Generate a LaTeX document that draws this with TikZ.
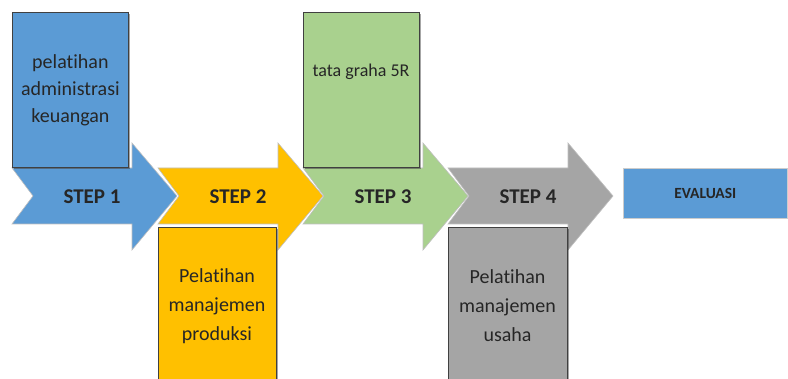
\documentclass[tikz,border=0pt]{standalone}
\usepackage{fontspec}
\setmainfont{Carlito}[Ligatures=NoCommon]
\usetikzlibrary{shadows}

\definecolor{stepblue}{HTML}{5B9BD5}
\definecolor{stepyellow}{HTML}{FFC000}
\definecolor{stepgreen}{HTML}{A9D18E}
\definecolor{stepgray}{HTML}{A5A5A5}

\tikzset{
  kotak/.style={rectangle, draw=black!75, line width=0.8pt, inner sep=0pt,
    minimum width=116pt, align=center, text=black!85,
    drop shadow={shadow xshift=1.5pt, shadow yshift=-1.5pt, fill=black, opacity=0.35}},
  isi/.style={align=center, text=black!85, font=\fontsize{20}{27}\selectfont},
  panah/.style={draw=black!25, line width=0.6pt},
  langkah/.style={text=black!85, font=\bfseries\fontsize{21}{24}\selectfont}
}

\begin{document}
\begin{tikzpicture}[x=1pt, y=-1pt]
\useasboundingbox (0,0) rectangle (788,379);
\clip (0,0) rectangle (788,379);

% panah langkah
\foreach \x/\warna [count=\i] in {12/stepblue, 158/stepyellow, 303/stepgreen, 448/stepgray} {
  \draw[panah, fill=\warna] (\x,168) -- (\x+120,168) -- (\x+120,143) -- (\x+165,196)
    -- (\x+120,250) -- (\x+120,224) -- (\x,224) -- (\x+21,196) -- cycle;
  \node[langkah] (step\i) at (\x+80,197) {STEP \i};
}

% kegiatan di atas
\node[kotak, fill=stepblue, minimum height=155pt, anchor=north west] (admin) at (12,12) {};
\node[isi] (admintxt) at (admin.center) {pelatihan\\administrasi\\keuangan};
\node[kotak, fill=stepgreen, minimum height=155pt, anchor=north west] (grahabox) at (303,12) {};
\node[isi, font=\fontsize{18}{22}\selectfont] (grahatxt) at (361,72) {tata graha 5R};

% kegiatan di bawah
\node[kotak, fill=stepyellow, minimum width=118pt, minimum height=160pt, anchor=north west] (produksi) at (158,227) {};
\node[isi, font=\fontsize{20}{29}\selectfont] (produksitxt) at (217,306) {Pelatihan\\manajemen\\produksi};
\node[kotak, fill=stepgray, minimum width=119pt, minimum height=160pt, anchor=north west] (usaha) at (448,227) {};
\node[isi, font=\fontsize{20}{29}\selectfont] (usahatxt) at (507.5,306) {Pelatihan\\manajemen\\usaha};

% evaluasi
\node[rectangle, fill=stepblue, draw=black!20, line width=0.6pt, minimum width=164pt, minimum height=50pt,
  anchor=north west, text=black!85, font=\bfseries\fontsize{15.5}{18}\selectfont] (evaluasi) at (623,168) {EVALUASI};
\end{tikzpicture}
\end{document}
